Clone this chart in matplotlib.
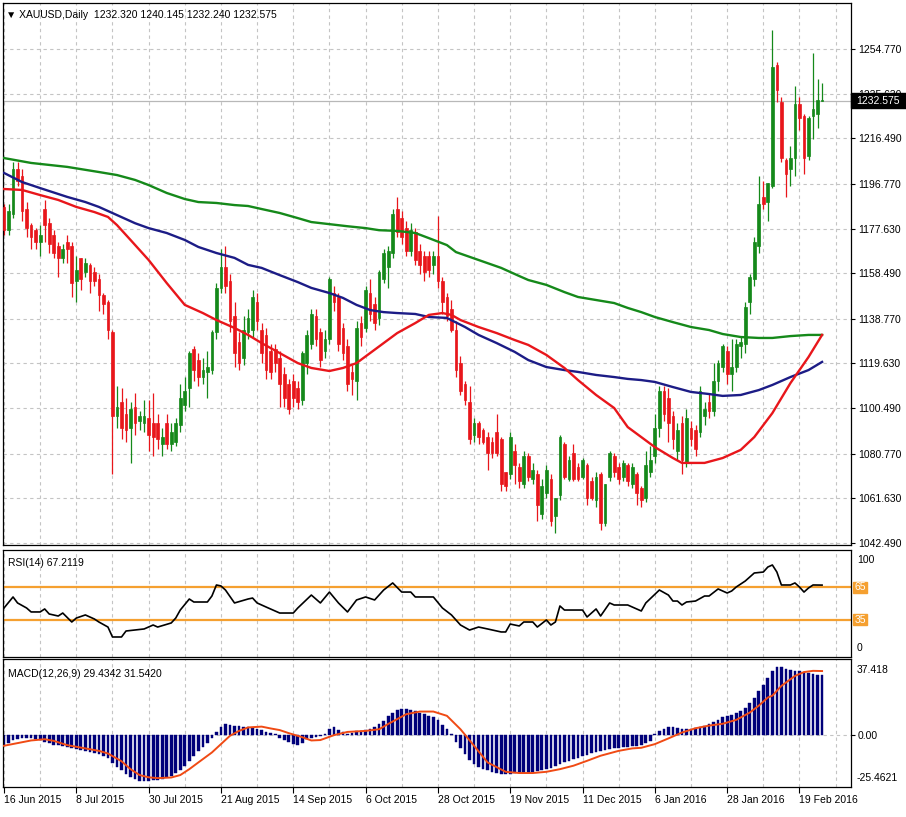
import matplotlib
matplotlib.use('Agg')
import matplotlib.pyplot as plt
from matplotlib.patches import Rectangle
import numpy as np

plt.rcParams['font.family'] = ['Liberation Sans', 'DejaVu Sans']

# ---- daily OHLC, bar 0 = 16 Jun 2015, last bar = 26 Feb 2016 ----
opens = [1187, 1177, 1184, 1203, 1200, 1186, 1179, 1177, 1172, 1186,
         1180, 1175, 1170, 1165, 1172, 1170, 1155, 1165, 1159, 1162,
         1159, 1156, 1149, 1146, 1133, 1097, 1103, 1098, 1092, 1101,
         1095, 1094, 1096, 1094, 1094, 1085, 1094, 1085, 1086, 1093,
         1102, 1109, 1126, 1121, 1114, 1116, 1117, 1133, 1152, 1161,
         1155, 1140, 1129, 1122, 1133, 1134, 1146, 1134, 1132, 1125,
         1126, 1122, 1115, 1111, 1112, 1109, 1104, 1120, 1128, 1140,
         1133, 1125, 1130, 1150, 1148, 1135, 1127, 1116, 1112, 1137,
         1135, 1150, 1145, 1139, 1156, 1161, 1167, 1186, 1182, 1178,
         1168, 1176, 1168, 1166, 1166, 1162, 1166, 1155, 1148, 1143,
         1134, 1120, 1111, 1103, 1089, 1094, 1091, 1088, 1086, 1090,
         1087, 1073, 1072, 1082, 1075, 1068, 1080, 1070, 1072, 1055,
         1064, 1070, 1054, 1063, 1085, 1070, 1081, 1075, 1071, 1076,
         1069, 1061, 1072, 1051, 1071, 1080, 1075, 1071, 1076, 1068,
         1072, 1066, 1062, 1073, 1080, 1092, 1108, 1105, 1097, 1082,
         1094, 1077, 1092, 1091, 1090, 1097, 1103, 1099, 1112, 1118,
         1125, 1115, 1118, 1127, 1128, 1146, 1156, 1170, 1191, 1189,
         1196, 1248, 1232, 1207, 1203, 1208, 1231, 1226, 1209, 1226,
         1227, 1232.320]
highs = [1188, 1188, 1206, 1206, 1203, 1189, 1180, 1178, 1179, 1190,
         1182, 1177, 1172, 1171, 1175, 1172, 1166, 1165, 1165, 1163,
         1161, 1158, 1150, 1147, 1134, 1110, 1109, 1105, 1103, 1107,
         1099, 1104, 1104, 1107, 1098, 1092, 1098, 1094, 1096, 1111,
         1114, 1125, 1127, 1124, 1122, 1125, 1134, 1154, 1169, 1170,
         1158, 1146, 1133, 1140, 1143, 1151, 1150, 1137, 1135, 1128,
         1128, 1125, 1118, 1113, 1115, 1112, 1125, 1134, 1143, 1143,
         1135, 1134, 1157, 1153, 1150, 1137, 1130, 1119, 1138, 1140,
         1153, 1156, 1148, 1160, 1169, 1170, 1186, 1191, 1185, 1181,
         1180, 1178, 1171, 1168, 1168, 1168, 1183, 1157, 1150, 1147,
         1138, 1123, 1112, 1110, 1096, 1095, 1092, 1090, 1088, 1098,
         1088, 1073, 1090, 1085, 1077, 1082, 1081, 1077, 1074, 1070,
         1076, 1072, 1062, 1089, 1086, 1080, 1085, 1077, 1079, 1077,
         1071, 1073, 1073, 1068, 1082, 1081, 1077, 1078, 1077, 1077,
         1073, 1067, 1082, 1084, 1098, 1110, 1110, 1109, 1099, 1094,
         1097, 1100, 1095, 1093, 1110, 1103, 1107, 1120, 1121, 1128,
         1127, 1130, 1130, 1131, 1146, 1158, 1174, 1200, 1198, 1197,
         1263, 1249, 1234, 1208, 1213, 1239, 1234, 1227, 1226, 1253,
         1242, 1240.145]
lows = [1175, 1175, 1182, 1196, 1181, 1174, 1169, 1169, 1166, 1172,
        1167, 1165, 1157, 1163, 1163, 1148, 1146, 1151, 1157, 1150,
        1153, 1142, 1141, 1130, 1072, 1092, 1087, 1086, 1077, 1089,
        1091, 1090, 1082, 1080, 1083, 1080, 1083, 1082, 1084, 1090,
        1099, 1101, 1112, 1110, 1111, 1105, 1115, 1130, 1150, 1150,
        1133, 1118, 1117, 1119, 1130, 1131, 1134, 1120, 1113, 1113,
        1116, 1101, 1101, 1098, 1101, 1100, 1102, 1115, 1126, 1127,
        1118, 1122, 1128, 1142, 1125, 1121, 1108, 1106, 1104, 1127,
        1133, 1138, 1134, 1136, 1154, 1152, 1165, 1174, 1171, 1166,
        1166, 1162, 1158, 1155, 1157, 1158, 1152, 1141, 1138, 1133,
        1114, 1106, 1102, 1085, 1086, 1085, 1085, 1074, 1079, 1080,
        1065, 1065, 1070, 1068, 1066, 1066, 1069, 1068, 1052, 1053,
        1062, 1050, 1047, 1061, 1070, 1069, 1069, 1069, 1070, 1059,
        1061, 1058, 1048, 1050, 1069, 1071, 1068, 1069, 1067, 1066,
        1059, 1058, 1060, 1071, 1077, 1088, 1095, 1086, 1083, 1078,
        1072, 1075, 1084, 1080, 1088, 1093, 1096, 1097, 1108, 1116,
        1111, 1108, 1116, 1122, 1124, 1141, 1153, 1167, 1186, 1181,
        1195, 1232, 1206, 1191, 1196, 1200, 1220, 1201, 1207, 1216,
        1221, 1232.240]
closes = [1177, 1185, 1203, 1198, 1185, 1178, 1174, 1172, 1175, 1179,
          1171, 1167, 1165, 1169, 1169, 1154, 1160, 1156, 1163, 1155,
          1155, 1149, 1145, 1134, 1097, 1101, 1092, 1091, 1100, 1094,
          1097, 1097, 1089, 1088, 1087, 1088, 1085, 1090, 1094, 1105,
          1108, 1124, 1117, 1114, 1117, 1118, 1133, 1152, 1161, 1153,
          1138, 1124, 1120, 1134, 1139, 1148, 1138, 1124, 1117, 1116,
          1120, 1111, 1105, 1100, 1105, 1103, 1124, 1132, 1141, 1130,
          1121, 1130, 1156, 1146, 1128, 1124, 1111, 1113, 1135, 1131,
          1151, 1141, 1137, 1159, 1167, 1168, 1184, 1176, 1174, 1168,
          1177, 1164, 1162, 1159, 1160, 1166, 1155, 1146, 1140, 1134,
          1117, 1108, 1104, 1087, 1094, 1088, 1086, 1081, 1081, 1081,
          1068, 1067, 1088, 1076, 1069, 1080, 1071, 1074, 1059, 1067,
          1074, 1052, 1062, 1088, 1071, 1078, 1070, 1070, 1078, 1062,
          1062, 1071, 1051, 1068, 1081, 1073, 1070, 1077, 1069, 1075,
          1064, 1061, 1076, 1078, 1092, 1108, 1098, 1094, 1087, 1091,
          1078, 1096, 1087, 1083, 1108, 1100, 1099, 1112, 1120, 1127,
          1115, 1118, 1128, 1129, 1144, 1157, 1172, 1188, 1188, 1197,
          1247, 1237, 1208, 1201, 1208, 1231, 1225, 1208, 1225, 1229,
          1233, 1232.575]

# ---- moving averages (bar index, price) ----
ma_fast_x = [0, 4, 8, 12, 16, 20, 23, 25, 28, 32, 36, 40, 44, 47, 51, 54, 57, 61, 65, 68,
             72, 75, 78, 81, 84, 87, 91, 94, 97, 99, 101, 105, 109, 113, 116, 120, 124, 127,
             131, 135, 138, 141, 144, 148, 150, 155, 159, 163, 166, 170, 174, 178, 181]
ma_fast = [1194.6, 1194.2, 1192.0, 1189.9, 1186.9, 1184.7, 1182.6, 1179.1, 1172.7, 1164.1,
           1154.2, 1144.8, 1141.3, 1138.3, 1134.9, 1131.9, 1128.4, 1124.1, 1119.8, 1117.7,
           1116.4, 1117.7, 1119.8, 1124.1, 1128.4, 1132.7, 1137.0, 1140.5, 1141.3, 1140.5,
           1138.3, 1135.3, 1132.7, 1129.7, 1127.6, 1123.3, 1117.7, 1112.5, 1106.1, 1100.5,
           1092.3, 1088.0, 1083.7, 1079.0, 1076.9, 1076.9, 1079.0, 1082.5, 1088.0, 1098.3,
           1111.2, 1122.4, 1131.9]
ma_mid_x = [0, 4, 8, 14, 18, 21, 25, 29, 32, 36, 40, 43, 47, 51, 54, 57, 61, 65, 68, 72,
            75, 78, 81, 84, 87, 91, 94, 98, 102, 105, 109, 113, 116, 120, 124, 127, 131, 135,
            138, 141, 144, 148, 152, 156, 159, 163, 167, 170, 174, 178, 181]
ma_mid = [1201.5, 1197.6, 1195.0, 1191.2, 1189.0, 1186.9, 1183.4, 1179.9, 1177.8, 1175.7,
          1172.7, 1169.7, 1167.1, 1165.0, 1162.0, 1160.7, 1157.6, 1154.6, 1152.1, 1149.9,
          1147.8, 1144.8, 1142.6, 1141.7, 1141.3, 1140.9, 1139.6, 1139.2, 1135.3, 1131.9,
          1128.4, 1124.6, 1121.1, 1118.1, 1116.8, 1116.0, 1114.7, 1113.8, 1113.0, 1112.5,
          1111.7, 1109.5, 1107.4, 1106.5, 1105.7, 1106.1, 1108.2, 1110.4, 1113.8, 1116.8,
          1120.3]
ma_slow_x = [0, 6, 14, 21, 25, 29, 32, 36, 40, 43, 47, 51, 54, 57, 61, 65, 68, 72, 76, 80,
             83, 87, 91, 94, 98, 100, 105, 110, 114, 116, 120, 124, 127, 131, 135, 138, 141,
             144, 148, 152, 156, 159, 163, 167, 170, 174, 178, 181]
ma_slow = [1207.9, 1205.8, 1204.1, 1201.9, 1200.6, 1198.5, 1196.3, 1192.9, 1190.3, 1189.0,
           1188.6, 1187.7, 1187.3, 1186.0, 1184.3, 1182.1, 1180.4, 1179.5, 1178.6, 1177.8,
           1176.9, 1176.6, 1175.7, 1173.5, 1170.5, 1167.5, 1164.1, 1160.7, 1157.2, 1155.5,
           1153.4, 1150.3, 1148.2, 1146.9, 1145.6, 1143.5, 1141.7, 1139.6, 1137.4, 1135.3,
           1134.0, 1132.3, 1131.0, 1130.6, 1130.6, 1131.4, 1131.9, 1131.9]

# ---- RSI(14) ----
rsi_x = [0, 2, 3, 5, 6, 8, 9, 10, 12, 13, 15, 16, 18, 20, 21, 23, 24, 26, 27, 31,
         33, 34, 37, 38, 39, 41, 42, 45, 46, 47, 48, 49, 51, 54, 55, 56, 58, 61, 64, 65,
         68, 70, 72, 74, 76, 78, 80, 82, 84, 86, 88, 90, 91, 95, 97, 99, 101, 103, 105, 107,
         110, 111, 112, 114, 115, 117, 118, 120, 121, 122, 123, 124, 128, 129, 131, 132, 134, 135, 138, 141,
         142, 145, 147, 148, 149, 150, 151, 153, 155, 156, 158, 160, 161, 162, 164, 166, 168, 169, 170, 171,
         172, 173, 174, 175, 176, 177, 178, 179, 181]
rsi_vals = [45.8, 56.1, 50.5, 45.8, 42.1, 42.1, 44.9, 40.2, 38.3, 41.1,
            32.7, 36.4, 39.3, 35.5, 32.7, 28.0, 18.7, 18.7, 24.3, 26.2,
            29.9, 28.0, 31.8, 36.4, 43.9, 54.2, 51.4, 51.4, 57.0, 67.3,
            66.4, 62.6, 50.5, 54.2, 55.1, 50.5, 46.7, 41.1, 41.1, 45.8,
            57.9, 50.5, 60.7, 50.5, 42.1, 53.3, 56.1, 53.3, 62.6, 69.2,
            60.7, 60.7, 56.1, 56.1, 45.8, 39.3, 29.9, 25.2, 28.0, 26.2,
            23.4, 23.4, 30.8, 29.0, 32.7, 32.7, 28.0, 34.6, 29.9, 32.7,
            47.7, 43.9, 43.9, 37.4, 44.9, 38.3, 50.5, 48.6, 48.6, 43.0,
            50.5, 62.6, 57.9, 52.3, 52.3, 48.6, 51.4, 52.3, 57.0, 57.0,
            63.6, 59.8, 61.7, 65.4, 71.0, 78.5, 79.4, 84.1, 86.0, 79.4,
            67.3, 67.3, 67.3, 69.2, 65.4, 60.7, 64.5, 67.3, 67.2]

# ---- MACD(12,26,9): histogram per bar + signal line ----
macd_hist = [-5.0, -3.8, -2.5, -1.8, -1.3, -1.2, -1.3, -1.8, -2.5, -3.3,
             -4.0, -4.6, -5.0, -5.4, -5.8, -6.2, -6.6, -7.2, -7.8, -8.3,
             -8.8, -9.4, -10.2, -11.2, -13.5, -15.5, -17.3, -19.0, -20.5, -21.6,
             -22.3, -22.4, -22.4, -22.2, -21.9, -21.4, -20.7, -19.9, -18.6, -17.0,
             -15.0, -12.6, -10.0, -8.0, -6.0, -3.8, -1.2, 1.5, 4.0, 5.4,
             5.2, 4.7, 4.3, 4.0, 3.8, 3.6, 3.0, 2.3, 1.7, 1.2,
             0.6, -1.5, -2.3, -3.2, -4.2, -5.0, -3.8, -2.0, -1.3, -0.9,
             -0.4, 0.8, 2.9, 3.8, 2.4, 1.5, 0.6, 1.3, 2.1, 2.1,
             2.5, 2.9, 3.8, 5.4, 7.0, 9.3, 11.1, 12.2, 12.7, 12.7,
             12.3, 11.9, 11.1, 10.3, 9.5, 8.7, 7.3, 5.2, 2.9, 0.4,
             -3.2, -6.2, -9.4, -12.3, -14.0, -15.5, -16.6, -17.3, -18.0, -18.6,
             -19.1, -19.2, -19.0, -18.8, -18.7, -18.7, -18.4, -18.0, -17.6, -16.9,
             -16.7, -15.9, -15.2, -14.2, -13.4, -12.6, -11.7, -11.0, -10.2, -9.5,
             -8.7, -8.2, -7.8, -7.3, -6.9, -6.5, -6.2, -5.9, -5.6, -5.4,
             -5.2, -4.8, -4.0, -2.8, 0.4, 2.1, 3.0, 3.8, 3.9, 3.5,
             3.1, 3.0, 3.0, 3.3, 4.1, 4.6, 5.6, 6.7, 7.5, 8.7,
             9.5, 9.8, 11.1, 12.0, 13.3, 15.8, 18.3, 21.5, 24.6, 28.0,
             31.5, 33.7, 33.5, 32.3, 32.0, 31.7, 31.5, 31.2, 30.7, 30.0,
             29.5, 29.43]
signal_x = [0, 3, 6, 9, 11, 14, 18, 21, 23, 26, 28, 30, 32, 34, 37, 39, 41, 43, 46, 48,
            50, 52, 54, 57, 59, 61, 63, 66, 68, 70, 73, 76, 80, 83, 85, 89, 92, 95, 98, 101,
            104, 107, 111, 114, 117, 120, 123, 126, 129, 132, 136, 139, 141, 144, 147, 150, 153, 156, 159, 162,
            165, 167, 169, 170, 172, 175, 177, 179, 181]
signal_vals = [-5.2, -3.9, -2.6, -2.0, -2.8, -4.9, -6.5, -7.7, -9.0, -12.8,
               -16.7, -19.6, -20.7, -21.1, -20.8, -19.6, -16.7, -13.4, -8.5, -4.4,
               -0.3, 2.1, 3.8, 4.2, 3.3, 2.5, 1.0, -1.0, -2.6, -2.4,
               0.0, 1.6, 2.1, 2.9, 5.5, 10.3, 11.6, 11.6, 9.5, 2.9,
               -5.2, -13.4, -18.0, -18.6, -18.6, -18.0, -16.7, -15.0, -12.6, -10.1,
               -7.7, -6.5, -6.2, -4.4, -1.6, 1.3, 3.4, 4.7, 5.6, 7.5,
               11.1, 14.5, 18.5, 19.4, 24.2, 29.1, 31.0, 31.6, 31.5]

date_pos = [0, 16, 32, 48, 64, 80, 96, 112, 128, 144, 160, 176]
date_labels = ['16 Jun 2015', '8 Jul 2015', '30 Jul 2015', '21 Aug 2015', '14 Sep 2015',
               '6 Oct 2015', '28 Oct 2015', '19 Nov 2015', '11 Dec 2015', '6 Jan 2016',
               '28 Jan 2016', '19 Feb 2016']
price_ticks = [1042.490, 1061.630, 1080.770, 1100.490, 1119.630, 1138.770,
               1158.490, 1177.630, 1196.770, 1216.490, 1235.630, 1254.770]
last_price = 1232.575

GREEN = '#15891a'
RED = '#e8161b'
BLUE = '#1c1c86'
ORANGE = '#f5a030'
NAVY = '#00007a'
SIGNAL = '#f04a14'
GRID = dict(color='#c4c4c4', linestyle=(0, (3, 3)), linewidth=0.8)
FS = 7.5

W, H = 906, 817
fig = plt.figure(figsize=(W / 100, H / 100), dpi=100)
fig.patch.set_facecolor('white')


def box(x0, y0, x1, y1):
    return [x0 / W, 1 - y1 / H, (x1 - x0) / W, (y1 - y0) / H]


ax = fig.add_axes(box(3, 3, 851, 545))
ax_rsi = fig.add_axes(box(3, 550, 851, 657), sharex=ax)
ax_macd = fig.add_axes(box(3, 659, 851, 787), sharex=ax)

for a in (ax, ax_rsi, ax_macd):
    for s in a.spines.values():
        s.set_color('black')
        s.set_linewidth(0.9)
    a.yaxis.tick_right()
    a.set_xticks(date_pos)
    a.set_xticks([p + 8 for p in date_pos], minor=True)
    a.grid(axis='x', which='both', **GRID)
    a.tick_params(axis='y', labelsize=FS, length=3, pad=2, colors='black')
    a.tick_params(axis='x', which='minor', length=0)
    a.set_axisbelow(True)

ax.set_xlim(-0.22, 187.4)
ax.tick_params(axis='x', which='both', length=0, labelbottom=False)
ax_rsi.tick_params(axis='x', which='both', length=0, labelbottom=False)

# ---- main price panel ----
idx = np.arange(len(closes))
o, hi, lo, c = (np.array(v, dtype=float) for v in (opens, highs, lows, closes))
col = np.where(c >= o, GREEN, RED)
ax.vlines(idx, lo, hi, colors=col, linewidth=0.9, zorder=2)
ax.bar(idx, np.maximum(np.abs(c - o), 0.6), bottom=np.minimum(o, c), width=0.6,
       color=col, edgecolor=col, linewidth=0.5, zorder=3)

ax.plot(ma_slow_x, ma_slow, color=GREEN, lw=1.7, zorder=4)
ax.plot(ma_mid_x, ma_mid, color=BLUE, lw=1.7, zorder=4)
ax.plot(ma_fast_x, ma_fast, color=RED, lw=1.7, zorder=4)
ax.axhline(last_price, color='#b8b8b8', lw=0.9, zorder=1.5)

ax.set_ylim(1041.63, 1274.53)
ax.set_yticks(price_ticks)
ax.set_yticklabels(['%.3f' % p for p in price_ticks])
ax.grid(axis='y', **GRID)

trans = ax.get_yaxis_transform()
ax.add_patch(Rectangle((1.0, last_price - 3.1), 55 / 848, 6.2, transform=trans,
                       facecolor='black', edgecolor='black', clip_on=False, zorder=10))
ax.text(1.0 + 5 / 848, last_price, '%.3f' % last_price, transform=trans, color='white',
        fontsize=FS, va='center', ha='left', zorder=11, clip_on=False)
fig.text(6 / W, 1 - 15 / H, '\u25bc XAUUSD,Daily  1232.320 1240.145 1232.240 1232.575',
         fontsize=FS, va='center', ha='left')

# ---- RSI panel ----
ax_rsi.plot(rsi_x, rsi_vals, color='black', lw=1.2, zorder=3)
for lvl in (65, 35):
    ax_rsi.axhline(lvl, color=ORANGE, lw=1.6, zorder=2)
ax_rsi.set_ylim(0, 100)
ax_rsi.set_yticks([])
rtrans = ax_rsi.get_yaxis_transform()
for lvl in (65, 35):
    ax_rsi.add_patch(Rectangle((1.0 + 2 / 848, lvl - 5.3), 14 / 848, 10.6, transform=rtrans,
                               facecolor=ORANGE, edgecolor=ORANGE, clip_on=False, zorder=10))
    ax_rsi.text(1.0 + 9 / 848, lvl, str(lvl), transform=rtrans, color='white', fontsize=FS,
                va='center', ha='center', zorder=11, clip_on=False)
ax_rsi.text(1.0 + 6 / 848, 90.5, '100', transform=rtrans, fontsize=FS, va='center', ha='left')
ax_rsi.text(1.0 + 6 / 848, 8.4, '0', transform=rtrans, fontsize=FS, va='center', ha='left')
ax_rsi.text(5 / 848, 0.88, 'RSI(14) 67.2119', transform=ax_rsi.transAxes, fontsize=FS,
            va='center', ha='left')

# ---- MACD panel ----
ax_macd.bar(idx, macd_hist, width=0.6, color=NAVY, edgecolor=NAVY, linewidth=0.3, zorder=2)
ax_macd.plot(signal_x, signal_vals, color=SIGNAL, lw=1.4, zorder=3)
ax_macd.set_ylim(-25.4621, 37.418)
ax_macd.set_yticks([0])
ax_macd.set_yticklabels(['0.00'])
ax_macd.grid(axis='y', **GRID)
mtrans = ax_macd.get_yaxis_transform()
ax_macd.text(1.0 + 6 / 848, 32.0, '37.418', transform=mtrans, fontsize=FS, va='center', ha='left')
ax_macd.text(1.0 + 6 / 848, -21.0, '-25.4621', transform=mtrans, fontsize=FS, va='center', ha='left')
ax_macd.text(5 / 848, 0.88, 'MACD(12,26,9) 29.4342 31.5420', transform=ax_macd.transAxes,
             fontsize=FS, va='center', ha='left')
ax_macd.set_xticklabels(date_labels)
ax_macd.tick_params(axis='x', which='major', labelsize=FS, length=4, pad=2, direction='out')
for lab in ax_macd.get_xticklabels():
    lab.set_horizontalalignment('left')

fig.savefig('out.png', dpi=100, facecolor='white')
